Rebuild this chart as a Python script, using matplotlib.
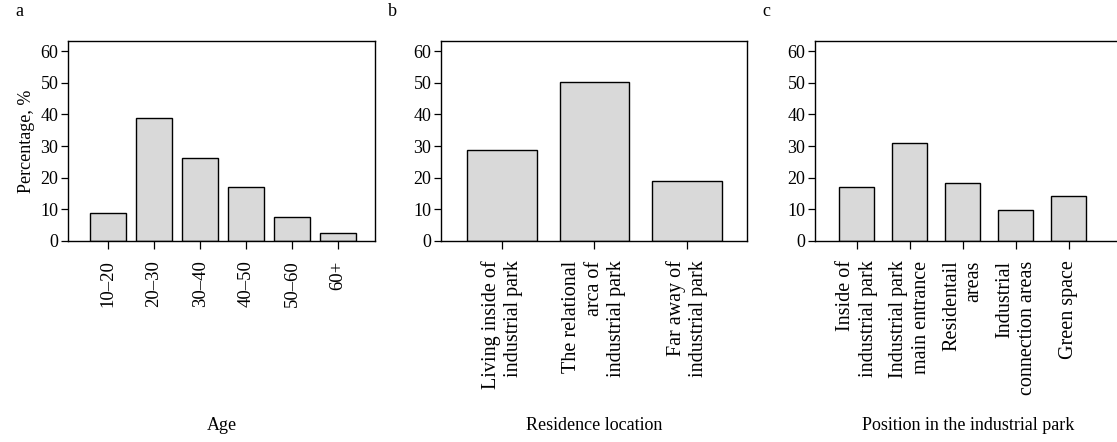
import matplotlib
matplotlib.use("Agg")
import matplotlib.pyplot as plt

plt.rcParams['font.family'] = ['Liberation Serif', 'DejaVu Serif']

# panel a: age
age_groups = ['10\u201320', '20\u201330', '30\u201340', '40\u201350', '50\u201360', '60+']
age_pct = [8.9, 39.0, 26.3, 17.0, 7.7, 2.4]

# panel b: residence location
residence = ['Living inside of\nindustrial park',
             'The relational\narca of\nindustrial park',
             'Far away of\nindustrial park']
residence_pct = [28.8, 50.3, 18.9]

# panel c: position in the industrial park
position = ['Inside of\nindustrial park',
            'Industrial park\nmain entrance',
            'Residentail\nareas',
            'Industrial\nconnection areas',
            'Green space']
position_pct = [17.0, 30.9, 18.3, 9.9, 14.3]

W, H = 1117, 442
fig = plt.figure(figsize=(W / 100, H / 100), dpi=100)

panels = [
    (age_groups, age_pct, 'Age', 'a', 68, 307, (-0.87, 5.8), 0.77, 13.5),
    (residence, residence_pct, 'Residence location', 'b', 441, 306, (-0.66, 2.65), 0.75, 14.5),
    (position, position_pct, 'Position in the industrial park', 'c', 815, 307, (-0.79, 5.0), 0.66, 14.5),
]

top, bottom = 41, 241
for i, (cats, vals, xlab, letter, left, width, xl, bw, fs) in enumerate(panels):
    ax = fig.add_axes([left / W, 1 - bottom / H, width / W, (bottom - top) / H])
    ax.bar(range(len(cats)), vals, width=bw, color='#d9d9d9',
           edgecolor='black', linewidth=1.0)
    ax.set_xlim(*xl)
    ax.set_ylim(0, 63.2)
    ax.set_yticks([0, 10, 20, 30, 40, 50, 60])
    ax.set_xticks(range(len(cats)))
    ax.set_xticklabels(cats, rotation=90, fontsize=fs, ha='center',
                       va='top', multialignment='right', linespacing=1.25)
    ax.tick_params(axis='y', labelsize=13, length=5, width=0.9, direction='out', pad=2)
    ax.tick_params(axis='x', length=6, width=0.9, direction='out', pad=8)
    for s in ax.spines.values():
        s.set_linewidth(1.0)
    ax.set_xlabel(xlab, fontsize=13)
    ax.xaxis.set_label_coords(0.5, -0.88)
    if i == 0:
        ax.set_ylabel('Percentage, %', fontsize=13, labelpad=4)
    fig.text((left - 53) / W, 1 - 12 / H, letter, fontsize=13, ha='left', va='center')

fig.savefig('out.png', dpi=100)
